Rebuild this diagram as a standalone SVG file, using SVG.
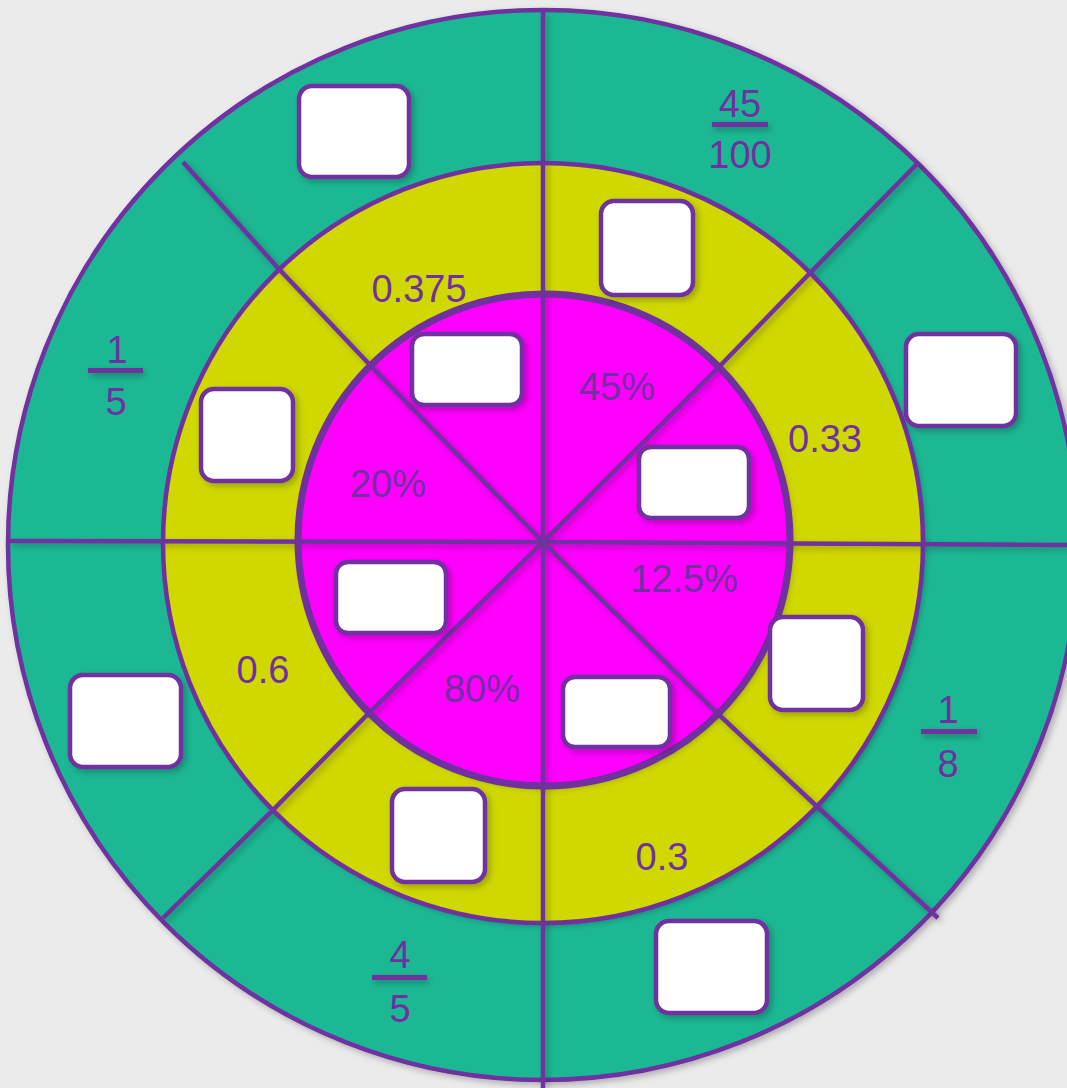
<svg xmlns="http://www.w3.org/2000/svg" width="1067" height="1088" viewBox="0 0 1067 1088">
<style>
.ln{fill:none;stroke:#7030a0;stroke-width:4.5;stroke-linejoin:round}
.ring{stroke:#7030a0;stroke-width:4.5}
.box{fill:#ffffff;stroke:#7030a0;stroke-width:4.5}
.t{font-family:"Liberation Sans",Arial,sans-serif;font-size:38px;fill:#7030a0;text-anchor:middle}
.fl{fill:#7030a0}
</style>
<defs>
<filter id="sh" x="-20%" y="-20%" width="140%" height="140%">
<feDropShadow dx="3" dy="3" stdDeviation="3" flood-color="#000" flood-opacity="0.25"/>
</filter>
<filter id="sh2" x="-30%" y="-200%" width="160%" height="500%">
<feDropShadow dx="2" dy="3" stdDeviation="3" flood-color="#000" flood-opacity="0.3"/>
</filter>
</defs>
<rect width="1067" height="1088" fill="#ebebeb"/>
<g id="rings">
<circle cx="543" cy="545" r="535" fill="#1bb894" class="ring" filter="url(#sh)"/>
<circle cx="543" cy="543" r="380" fill="#d0d800" filter="url(#sh)"/>
<circle cx="544" cy="540" r="246" fill="#ff00ff" filter="url(#sh)"/>
</g>
<g id="connectors" filter="url(#sh)">
<polyline class="ln" points="10,541 543,542 1067,545"/>
<polyline class="ln" points="543,12 543,542 543,1088"/>
<polyline class="ln" points="183,162 278,268 370,365 543,542 715,711 810,800 938,918"/>
<polyline class="ln" points="918,163 810,273 718,368 543,542 370,712 273,810 163,918"/>
</g>
<g id="ring-outlines">
<circle cx="543" cy="543" r="380" fill="none" class="ring"/>
<circle cx="544" cy="540" r="246" fill="none" stroke="#7030a0" stroke-width="7"/>
</g>
<g id="boxes" filter="url(#sh)">
<rect id="box1" class="box" x="299" y="86" width="110" height="91" rx="13"/>
<rect id="box2" class="box" x="601" y="201" width="92" height="94" rx="13"/>
<rect id="box3" class="box" x="906" y="334" width="110" height="92" rx="13"/>
<rect id="box4" class="box" x="412" y="334" width="110" height="71" rx="12"/>
<rect id="box5" class="box" x="201" y="389" width="92" height="92" rx="13"/>
<rect id="box6" class="box" x="639" y="447" width="110" height="71" rx="12"/>
<rect id="box7" class="box" x="336" y="562" width="110" height="71" rx="12"/>
<rect id="box8" class="box" x="770" y="617" width="93" height="93" rx="13"/>
<rect id="box9" class="box" x="70" y="675" width="111" height="92" rx="13"/>
<rect id="box10" class="box" x="563" y="677" width="107" height="70" rx="12"/>
<rect id="box11" class="box" x="392" y="789" width="93" height="93" rx="13"/>
<rect id="box12" class="box" x="656" y="921" width="111" height="92" rx="13"/>
</g>
<g id="labels">
<text class="t" x="419" y="302">0.375</text>
<text class="t" x="617" y="400">45%</text>
<text class="t" x="825" y="452">0.33</text>
<text class="t" x="388" y="497">20%</text>
<text class="t" x="684" y="592">12.5%</text>
<text class="t" x="263" y="683">0.6</text>
<text class="t" x="482" y="702">80%</text>
<text class="t" x="662" y="870">0.3</text>
</g>
<g id="fractions">
<g id="frac-45-100">
<text class="t" x="740" y="117">45</text>
<rect class="fl" x="712" y="122" width="56" height="5" filter="url(#sh2)"/>
<text class="t" x="740" y="168">100</text>
</g>
<g id="frac-1-5">
<text class="t" x="117" y="363">1</text>
<rect class="fl" x="88" y="368" width="55" height="5" filter="url(#sh2)"/>
<text class="t" x="116" y="415">5</text>
</g>
<g id="frac-1-8">
<text class="t" x="948" y="723">1</text>
<rect class="fl" x="921" y="729" width="56" height="5" filter="url(#sh2)"/>
<text class="t" x="948" y="777">8</text>
</g>
<g id="frac-4-5">
<text class="t" x="400" y="968">4</text>
<rect class="fl" x="372" y="975" width="55" height="5" filter="url(#sh2)"/>
<text class="t" x="400" y="1022">5</text>
</g>
</g>
</svg>
